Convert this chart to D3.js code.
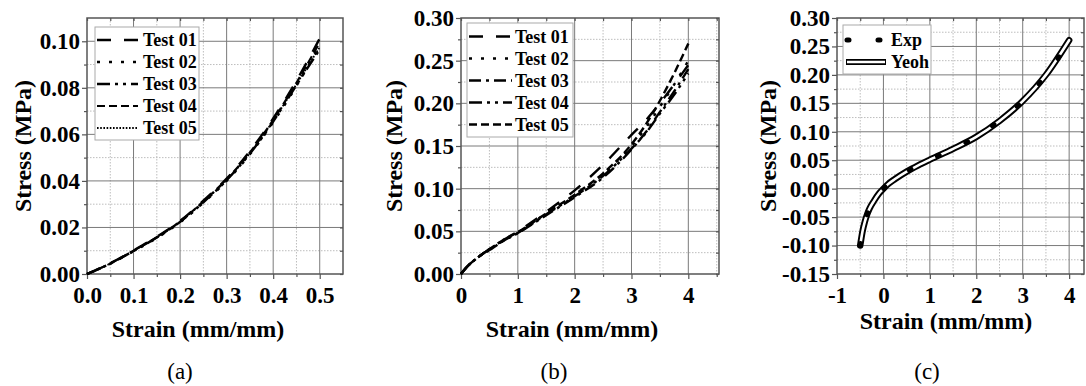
<!DOCTYPE html>
<html><head><meta charset="utf-8">
<script src="https://cdn.jsdelivr.net/npm/d3@7"></script>
<style>
html,body{margin:0;padding:0;background:#fff;}
svg text{font-family:"Liberation Serif","Times New Roman",serif;}
</style></head>
<body>
<svg id="chart" width="1086" height="386"></svg>
<script>
// ---------- DATA ----------
const strainA = [0,0.05,0.1,0.15,0.2,0.25,0.3,0.35,0.4,0.45,0.5];
const testA01 = [0,0.0046,0.0101,0.0160,0.0228,0.0315,0.0410,0.0528,0.0668,0.0830,0.1012];
const testA02 = [0,0.0044,0.0098,0.0155,0.0222,0.0306,0.0400,0.0514,0.0652,0.0808,0.0985];
const testA03 = [0,0.0045,0.0099,0.0157,0.0224,0.0308,0.0403,0.0517,0.0655,0.0812,0.0965];
const testA04 = [0,0.0045,0.0100,0.0158,0.0226,0.0312,0.0407,0.0522,0.0662,0.0822,0.0995];
const testA05 = [0,0.0045,0.0100,0.0157,0.0224,0.0310,0.0404,0.0519,0.0658,0.0815,0.0975];

const strainB = [0,0.1,0.25,0.5,0.75,1,1.5,2,2.5,3,3.25,3.5,3.75,4];
const testB01 = [0,0.008,0.017,0.029,0.040,0.050,0.073,0.098,0.128,0.163,0.180,0.200,0.222,0.245];
const testB02 = [0,0.008,0.017,0.029,0.040,0.049,0.071,0.092,0.117,0.150,0.171,0.196,0.222,0.250];
const testB03 = [0,0.008,0.017,0.029,0.039,0.048,0.069,0.090,0.113,0.146,0.166,0.190,0.214,0.240];
const testB04 = [0,0.008,0.017,0.028,0.039,0.048,0.070,0.091,0.115,0.147,0.165,0.188,0.210,0.235];
const testB05 = [0,0.008,0.017,0.029,0.040,0.049,0.071,0.093,0.118,0.152,0.175,0.203,0.235,0.270];

const strainC = [-0.5,-0.45,-0.4,-0.35,-0.3,-0.2,-0.1,0,0.1,0.25,0.5,0.75,1,1.5,2,2.5,3,3.5,4];
const expC    = [-0.100,-0.075,-0.058,-0.045,-0.035,-0.021,-0.009,0.000,0.008,0.017,0.030,0.041,0.051,0.070,0.091,0.120,0.154,0.199,0.260];
const yeohC   = [-0.100,-0.075,-0.058,-0.045,-0.035,-0.021,-0.009,0.000,0.008,0.017,0.030,0.041,0.051,0.070,0.091,0.119,0.154,0.200,0.261];

const legendA = ["Test 01","Test 02","Test 03","Test 04","Test 05"];
const legendB = ["Test 01","Test 02","Test 03","Test 04","Test 05"];
const legendC = ["Exp","Yeoh"];
const captions = ["(a)","(b)","(c)"];
const xTitle = "Strain (mm/mm)";
const yTitle = "Stress (MPa)";

// ---------- DRAW ----------
const svg = d3.select("#chart");
const dash = {
  long: "14,13", dots: "3,9", dashdotdot: "13,5,3,5,3,5", dashdot: "12,5,3,5", med: "8,4", fine: "1.6,1.6"
};
const hy = f => v => f(v).replace("\u2212","-");

function panel(cfg){
  const g = svg.append("g");
  const x = d3.scaleLinear().domain(cfg.xd).range([cfg.l, cfg.r]);
  const y = d3.scaleLinear().domain(cfg.yd).range([cfg.b, cfg.t]);
  const xMaj = d3.range(cfg.xd[0], cfg.xMax + 1e-9, cfg.xs).map(v=>+v.toFixed(4));
  const yMaj = d3.range(cfg.yd[0], cfg.yd[1] + 1e-9, cfg.ys).map(v=>+v.toFixed(4));
  const xMin = d3.range(cfg.xd[0] + cfg.xs/2, cfg.xd[1], cfg.xs).map(v=>+v.toFixed(4));
  const yMin = d3.range(cfg.yd[0] + cfg.ys/2, cfg.yd[1], cfg.ys).map(v=>+v.toFixed(4));
  g.selectAll(".vmin").data(xMin).join("line").attr("x1",d=>x(d)).attr("x2",d=>x(d)).attr("y1",cfg.t).attr("y2",cfg.b)
    .attr("stroke","#bdbdbd").attr("stroke-width",1).attr("stroke-dasharray","1.5,1.5");
  g.selectAll(".hmin").data(yMin).join("line").attr("y1",d=>y(d)).attr("y2",d=>y(d)).attr("x1",cfg.l).attr("x2",cfg.r)
    .attr("stroke","#bdbdbd").attr("stroke-width",1).attr("stroke-dasharray","1.5,1.5");
  g.selectAll(".vmaj").data(xMaj.filter(v=>x(v)>cfg.l+1 && x(v)<cfg.r-1)).join("line").attr("x1",d=>x(d)).attr("x2",d=>x(d)).attr("y1",cfg.t).attr("y2",cfg.b)
    .attr("stroke","#7a7a7a").attr("stroke-width",1);
  g.selectAll(".hmaj").data(yMaj.filter(v=>y(v)>cfg.t+1 && y(v)<cfg.b-1)).join("line").attr("y1",d=>y(d)).attr("y2",d=>y(d)).attr("x1",cfg.l).attr("x2",cfg.r)
    .attr("stroke","#7a7a7a").attr("stroke-width",1);
  const ax = g.append("g").attr("transform",`translate(0,${cfg.b})`)
    .call(d3.axisBottom(x).tickValues(xMaj).tickFormat(hy(cfg.xf)).tickSize(5).tickSizeOuter(0).tickPadding(7));
  const axm = g.append("g").attr("transform",`translate(0,${cfg.b})`)
    .call(d3.axisBottom(x).tickValues(xMin).tickFormat("").tickSize(3).tickSizeOuter(0));
  const ay = g.append("g").attr("transform",`translate(${cfg.l},0)`)
    .call(d3.axisLeft(y).tickValues(yMaj).tickFormat(hy(cfg.yf)).tickSize(5).tickSizeOuter(0).tickPadding(2));
  const aym = g.append("g").attr("transform",`translate(${cfg.l},0)`)
    .call(d3.axisLeft(y).tickValues(yMin).tickFormat("").tickSize(3).tickSizeOuter(0));
  const at = g.append("g").attr("transform",`translate(0,${cfg.t})`)
    .call(d3.axisTop(x).tickValues(xMaj.concat(xMin)).tickFormat("").tickSize(-3).tickSizeOuter(0));
  const ar = g.append("g").attr("transform",`translate(${cfg.r},0)`)
    .call(d3.axisRight(y).tickValues(yMaj.concat(yMin)).tickFormat("").tickSize(-3).tickSizeOuter(0));
  [ax,axm,ay,aym,at,ar].forEach(a=>{
    a.select(".domain").remove();
    a.selectAll("line").attr("stroke","#555").attr("stroke-width",1.2);
    a.selectAll("text").attr("fill","#000").style("font-size","23px").style("font-weight","bold")
      .style("font-family","'Liberation Serif',serif");
  });
  ax.selectAll("text").attr("dy","0.72em");
  g.append("rect").attr("x",cfg.l).attr("y",cfg.t).attr("width",cfg.r-cfg.l).attr("height",cfg.b-cfg.t)
    .attr("fill","none").attr("stroke","#555").attr("stroke-width",1.5);
  g.append("text").attr("x",cfg.xtx).attr("y",cfg.xty).attr("text-anchor","middle")
    .style("font-size","24px").style("font-weight","bold").text(xTitle);
  g.append("text").attr("transform",`translate(${cfg.ytx},${(cfg.t+cfg.b)/2}) rotate(-90)`).attr("text-anchor","middle")
    .style("font-size","24px").style("font-weight","bold").text(yTitle);
  g.append("text").attr("x",cfg.capx).attr("y",379).attr("text-anchor","middle")
    .style("font-size","23px").text(cfg.cap);
  return {g,x,y};
}

const line = (x,y)=> d3.line().x(d=>x(d[0])).y(d=>y(d[1])).curve(d3.curveMonotoneX);

// Panel A
(function(){
  const P = panel({l:87,r:343,t:18,b:274,xd:[0,0.55],xMax:0.5,xs:0.1,yd:[0,0.11],ys:0.02,
    xf:d3.format(".1f"),yf:d3.format(".2f"),xtx:198,xty:337,ytx:31,capx:180,cap:captions[0]});
  const series = [testA01,testA02,testA03,testA04,testA05];
  const styles = [dash.long,dash.dots,dash.dashdotdot,dash.med,dash.fine];
  const widths = [2.4,2.4,2.4,2.2,1.8];
  series.forEach((s,i)=>{
    P.g.append("path").datum(strainA.map((v,j)=>[v,s[j]])).attr("d",line(P.x,P.y))
      .attr("fill","none").attr("stroke","#000").attr("stroke-width",widths[i]).attr("stroke-dasharray",styles[i]);
  });
  const lg = P.g.append("g");
  lg.append("rect").attr("x",95).attr("y",27).attr("width",104).attr("height",113).attr("fill","#fff").attr("stroke","#aaa").attr("stroke-width",1);
  legendA.forEach((t,i)=>{
    const yy = 40 + i*22;
    lg.append("line").attr("x1",97).attr("x2",138).attr("y1",yy).attr("y2",yy).attr("stroke","#000")
      .attr("stroke-width",widths[i]).attr("stroke-dasharray",styles[i]);
    lg.append("text").attr("x",143).attr("y",yy+6).style("font-size","18px").style("font-weight","bold").text(t);
  });
})();

// Panel B
(function(){
  const P = panel({l:461,r:719,t:18,b:274,xd:[0,4.54],xMax:4,xs:1,yd:[0,0.30],ys:0.05,
    xf:d3.format("d"),yf:d3.format(".2f"),xtx:572,xty:337,ytx:402,capx:554,cap:captions[1]});
  const series = [testB01,testB02,testB03,testB04,testB05];
  const styles = [dash.long,dash.dots,dash.dashdot,dash.dashdotdot,dash.med];
  series.forEach((s,i)=>{
    P.g.append("path").datum(strainB.map((v,j)=>[v,s[j]])).attr("d",line(P.x,P.y))
      .attr("fill","none").attr("stroke","#000").attr("stroke-width",2.4).attr("stroke-dasharray",styles[i]);
  });
  const lg = P.g.append("g");
  lg.append("rect").attr("x",467).attr("y",23).attr("width",106).attr("height",114).attr("fill","#fff").attr("stroke","#aaa").attr("stroke-width",1);
  legendB.forEach((t,i)=>{
    const yy = 36.5 + i*22;
    lg.append("line").attr("x1",469).attr("x2",512).attr("y1",yy).attr("y2",yy).attr("stroke","#000")
      .attr("stroke-width",2.4).attr("stroke-dasharray",styles[i]);
    lg.append("text").attr("x",515).attr("y",yy+6).style("font-size","18px").style("font-weight","bold").text(t);
  });
})();

// Panel C
(function(){
  const P = panel({l:837,r:1084,t:18,b:274,xd:[-1,4.32],xMax:4,xs:1,yd:[-0.15,0.30],ys:0.05,
    xf:d3.format("d"),yf:d3.format(".2f"),xtx:946,xty:329,ytx:776,capx:927,cap:captions[2]});
  const yeohPts = strainC.map((v,j)=>[v,yeohC[j]]);
  P.g.append("path").datum(yeohPts).attr("d",line(P.x,P.y)).attr("fill","none").attr("stroke","#000")
    .attr("stroke-width",6.5).attr("stroke-linecap","round");
  P.g.append("path").datum(yeohPts).attr("d",line(P.x,P.y)).attr("fill","none").attr("stroke","#fff")
    .attr("stroke-width",2.6).attr("stroke-linecap","round");
  P.g.append("path").datum(strainC.map((v,j)=>[v,expC[j]])).attr("d",line(P.x,P.y)).attr("fill","none").attr("stroke","#000")
    .attr("stroke-width",5).attr("stroke-linecap","round").attr("stroke-dasharray","2,29.5");
  const lg = P.g.append("g");
  lg.append("rect").attr("x",843).attr("y",25).attr("width",88).attr("height",49).attr("fill","#fff").attr("stroke","#aaa").attr("stroke-width",1);
  lg.append("line").attr("x1",847).attr("x2",880).attr("y1",40).attr("y2",40).attr("stroke","#000")
    .attr("stroke-width",5).attr("stroke-linecap","round").attr("stroke-dasharray","2,29");
  lg.append("text").attr("x",891).attr("y",46).style("font-size","18px").style("font-weight","bold").text(legendC[0]);
  lg.append("line").attr("x1",846).attr("x2",886).attr("y1",62).attr("y2",62).attr("stroke","#000").attr("stroke-width",6);
  lg.append("line").attr("x1",847).attr("x2",885).attr("y1",62).attr("y2",62).attr("stroke","#fff").attr("stroke-width",2.6);
  lg.append("text").attr("x",891).attr("y",68).style("font-size","18px").style("font-weight","bold").text(legendC[1]);
})();
</script>
</body></html>
